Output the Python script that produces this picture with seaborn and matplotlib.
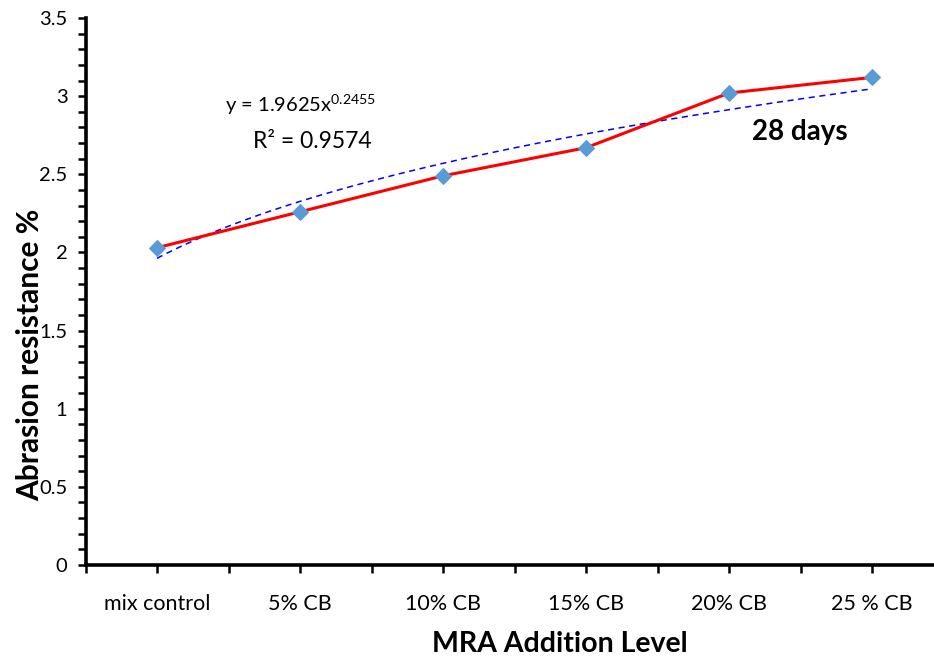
import numpy as np
import pandas as pd
import matplotlib
matplotlib.use("Agg")
import matplotlib.pyplot as plt
import seaborn as sns

categories = ["mix control", "5% CB", "10% CB", "15% CB", "20% CB", "25 % CB"]
positions = [1, 2, 3, 4, 5, 6]
abrasion = [2.03, 2.26, 2.49, 2.67, 3.02, 3.12]
fit_a = 1.9625
fit_b = 0.2455
eq_text = r"y = 1.9625x$^{\mathrm{0.2455}}$"
r2_text = "R² = 0.9574"
series_label = "28 days"

sns.set_theme(style="white")
plt.rcParams['font.family'] = ['Lato', 'DejaVu Sans']
plt.rcParams['mathtext.fontset'] = 'custom'
plt.rcParams['mathtext.rm'] = 'Lato'
plt.rcParams['mathtext.it'] = 'Lato:italic'
plt.rcParams['mathtext.bf'] = 'Lato:bold'

fig = plt.figure(figsize=(9.34, 6.59), dpi=100)
ax = fig.add_axes([85.5/934, (659-565)/659, (934-85.5)/934, 547/659])

df = pd.DataFrame({"x": positions, "y": abrasion})
xs = np.linspace(1, 6, 200)
trend = pd.DataFrame({"x": xs, "y": fit_a * xs ** fit_b})

sns.lineplot(data=trend, x="x", y="y", ax=ax, color="#0000FF", linewidth=1.1,
             linestyle=(0, (4, 3)), zorder=2)
sns.lineplot(data=df, x="x", y="y", ax=ax, color="#FF0000", linewidth=2.2,
             marker="D", markersize=8.5, markerfacecolor="#5B9BD5",
             markeredgecolor="#5B9BD5", zorder=3)

xt = np.arange(0.5, 6.01, 0.5)
ax.set_xticks(xt)
ax.set_xticklabels([categories[int(t) - 1] if float(t).is_integer() else "" for t in xt])
ax.set_yticks(np.arange(0, 3.51, 0.5))
ax.set_yticklabels(["0", "0.5", "1", "1.5", "2", "2.5", "3", "3.5"])
ax.set_yticks(np.arange(0, 3.51, 0.1), minor=True)

ax.set_xlim(0.5, 0.5 + (934 - 85.5) / 143)
ax.set_ylim(0, 3.5)

for s in ["top", "right"]:
    ax.spines[s].set_visible(False)
for s in ["left", "bottom"]:
    ax.spines[s].set_color("black")
    ax.spines[s].set_linewidth(2.6)

ax.tick_params(axis="y", which="both", direction="out", length=6, width=1.8,
               colors="black", labelsize=14.5, pad=7, left=True)
ax.tick_params(axis="x", which="both", direction="out", length=6, width=1.8,
               colors="black", labelsize=15.5, pad=15, bottom=True)

ax.set_xlabel("MRA Addition Level", fontsize=20.5, fontweight="bold", color="black")
ax.set_ylabel("Abrasion resistance %", fontsize=21.5, fontweight="bold", color="black")
ax.xaxis.set_label_coords((560 - 85.5) / 848.5, (565 - 644) / 547)
ax.yaxis.set_label_coords((30 - 85.5) / 848.5, (565 - 355) / 547)
ax.xaxis.label.set_va("center")
ax.yaxis.label.set_va("center")

ax.text(300, 659 - 105, eq_text, transform=None, fontsize=14.5, ha="center", va="center", color="black")
ax.text(312, 659 - 141, r2_text, transform=None, fontsize=16.5, ha="center", va="center", color="black")
ax.text(800, 659 - 132, series_label, transform=None, fontsize=20, fontweight="bold",
        ha="center", va="center", color="black")

fig.savefig("out.png", dpi=100)
